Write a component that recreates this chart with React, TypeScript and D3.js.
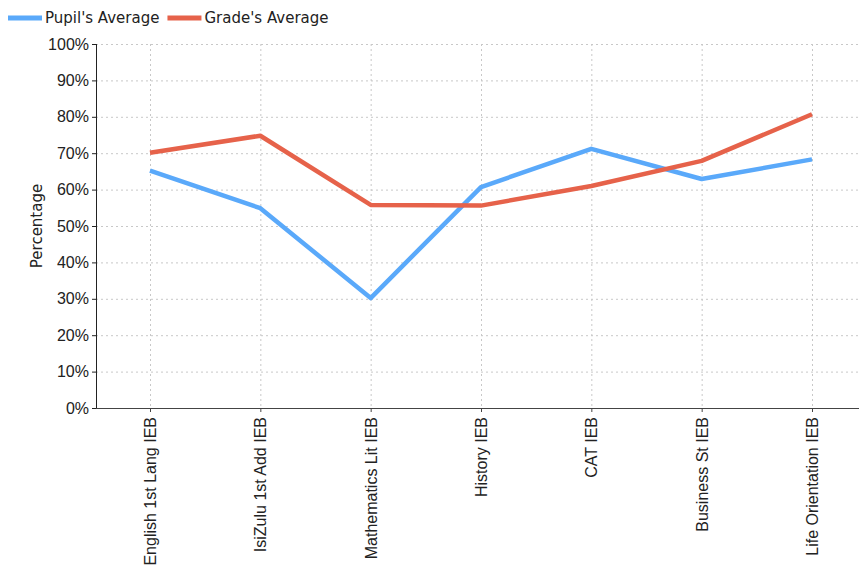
import { useRef, useEffect } from 'react';
import * as d3 from 'd3';

const subjects = [
    'English 1st Lang IEB',
    'IsiZulu 1st Add IEB',
    'Mathematics Lit IEB',
    'History IEB',
    'CAT IEB',
    'Business St IEB',
    'Life Orientation IEB',
];
const pupilAverage = [65.2, 54.9, 30.2, 60.7, 71.2, 62.9, 68.3];
const gradeAverage = [70.1, 74.8, 55.8, 55.6, 61.0, 67.9, 80.7];
const yTicks = [0, 10, 20, 30, 40, 50, 60, 70, 80, 90, 100];

const series = [
    { name: "Pupil's Average", values: pupilAverage, color: '#5aa9fa' },
    { name: "Grade's Average", values: gradeAverage, color: '#e6624a' },
];

export default function App() {
    const svgRef = useRef<SVGSVGElement>(null);

    useEffect(() => {
        if (!svgRef.current) return;
        const W = 859, H = 571;
        const margin = { top: 44, right: 0, bottom: 163, left: 96 };
        const height = H - margin.top - margin.bottom;
        const font = '"DejaVu Sans", Verdana, sans-serif';

        const root = d3.select(svgRef.current);
        root.selectAll('*').remove();
        root.attr('width', W).attr('height', H).style('font-family', font);

        const g = root.append('g').attr('transform', `translate(${margin.left},${margin.top})`);

        const x = d3.scalePoint<string>().domain(subjects).range([54, 716]);
        const y = d3.scaleLinear().domain([0, 100]).range([height, 0]);
        const axisWidth = W - margin.left;

        // Grid lines
        g.append('g')
            .selectAll('line.hg')
            .data(yTicks.filter(t => t > 0))
            .enter()
            .append('line')
            .attr('x1', 0).attr('x2', axisWidth)
            .attr('y1', d => y(d) + 0.5).attr('y2', d => y(d) + 0.5)
            .attr('stroke', '#c8c8c8').attr('stroke-dasharray', '2,3');
        g.append('g')
            .selectAll('line.vg')
            .data(subjects)
            .enter()
            .append('line')
            .attr('x1', d => (x(d) || 0) + 0.5).attr('x2', d => (x(d) || 0) + 0.5)
            .attr('y1', 0).attr('y2', height)
            .attr('stroke', '#c8c8c8').attr('stroke-dasharray', '2,3');

        // Y axis
        const yAxis = g.append('g')
            .call(d3.axisLeft(y).tickValues(yTicks).tickSize(4).tickFormat(d => `${d}%`));
        yAxis.select('.domain').attr('stroke', '#222').attr('d', `M0.5,0V${height}`);
        yAxis.selectAll('.tick line').attr('stroke', '#222');
        yAxis.selectAll('text').attr('fill', '#222').style('font-size', '16px').attr('x', -7);

        // X axis
        const xAxis = g.append('g')
            .attr('transform', `translate(0,${height})`)
            .call(d3.axisBottom(x).tickSize(4));
        xAxis.select('.domain').attr('stroke', '#444').attr('d', `M0,0.5H${axisWidth}`);
        xAxis.selectAll('.tick line').attr('stroke', '#444');
        xAxis.selectAll('text')
            .attr('fill', '#222')
            .style('font-size', '16px')
            .attr('text-anchor', 'end')
            .attr('transform', 'rotate(-90)')
            .attr('x', -9)
            .attr('y', 0)
            .attr('dy', '0.35em');

        // Y label
        g.append('text')
            .attr('transform', `translate(${-54},${height / 2}) rotate(-90)`)
            .attr('text-anchor', 'middle')
            .attr('fill', '#222')
            .style('font-size', '15px')
            .text('Percentage');

        // Lines
        const line = d3.line<number>()
            .x((_d, i) => x(subjects[i]) || 0)
            .y(d => y(d));
        series.forEach(s => {
            g.append('path')
                .datum(s.values)
                .attr('fill', 'none')
                .attr('stroke', s.color)
                .attr('stroke-width', 4.5)
                .attr('stroke-linejoin', 'round')
                .attr('d', line);
        });

        // Legend
        const legend = root.append('g').attr('transform', 'translate(8,18)');
        let offset = 0;
        series.forEach(s => {
            const item = legend.append('g').attr('transform', `translate(${offset},0)`);
            item.append('line')
                .attr('x1', 0).attr('x2', 34).attr('y1', 0).attr('y2', 0)
                .attr('stroke', s.color).attr('stroke-width', 5);
            const t = item.append('text')
                .attr('x', 37).attr('dy', '0.35em')
                .attr('fill', '#222')
                .style('font-size', '15px')
                .text(s.name);
            const w = (t.node() as SVGTextElement).getComputedTextLength();
            offset += 37 + w + 8;
        });
    }, []);

    return <svg ref={svgRef} style={{ display: 'block', position: 'absolute', left: 0, top: 0 }}></svg>;
}
